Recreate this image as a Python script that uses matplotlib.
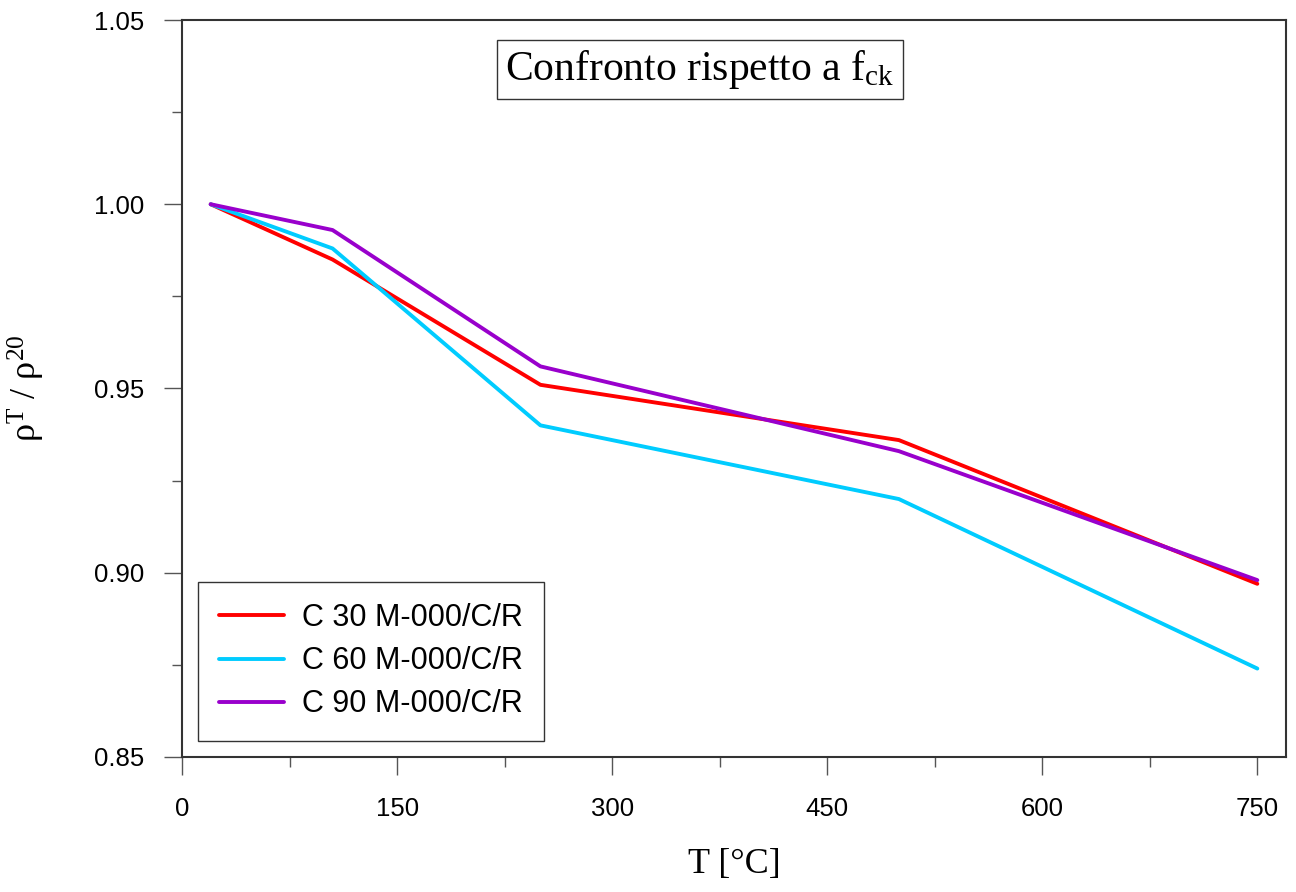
import matplotlib
matplotlib.use("Agg")
import matplotlib.pyplot as plt
from matplotlib.ticker import MultipleLocator, FormatStrFormatter

# dane
temps = [20, 105, 250, 500, 750]
c30 = [1.000, 0.985, 0.951, 0.936, 0.897]
c60 = [1.000, 0.988, 0.940, 0.920, 0.874]
c90 = [1.000, 0.993, 0.956, 0.933, 0.898]
labels = ["C 30 M-000/C/R", "C 60 M-000/C/R", "C 90 M-000/C/R"]
colors = ["#ff0000", "#00ccff", "#9900cc"]

plt.rcParams['mathtext.fontset'] = 'custom'
plt.rcParams['mathtext.rm'] = 'Liberation Serif'
plt.rcParams['mathtext.it'] = 'Liberation Serif:italic'

fig = plt.figure(figsize=(12.96, 8.92), dpi=100)
ax = fig.add_axes([182/1296, 1 - 757/892, (1286-182)/1296, (757-20)/892])

for serie, lab, col in zip([c30, c60, c90], labels, colors):
    ax.plot(temps, serie, color=col, lw=2.8, label=lab, solid_capstyle='round')

ax.set_xlim(0, 770)
ax.set_ylim(0.85, 1.05)
ax.xaxis.set_major_locator(MultipleLocator(150))
ax.xaxis.set_minor_locator(MultipleLocator(75))
ax.yaxis.set_major_locator(MultipleLocator(0.05))
ax.yaxis.set_minor_locator(MultipleLocator(0.025))
ax.yaxis.set_major_formatter(FormatStrFormatter('%.2f'))

for s in ax.spines.values():
    s.set_linewidth(1.5)
    s.set_color('#333333')
ax.tick_params(which='major', direction='out', length=13, width=1, color='#555555',
               labelsize=18.5)
ax.tick_params(axis='y', which='major', pad=14)
ax.tick_params(axis='x', which='major', pad=16)
ax.tick_params(which='minor', direction='out', length=7, width=1, color='#555555')
for t in ax.get_xticklabels() + ax.get_yticklabels():
    t.set_fontfamily('Liberation Sans')

ax.set_xlabel('T [°C]', fontsize=26, family='Liberation Serif')
ax.set_ylabel('ρ$^{\\mathrm{T}}$ / ρ$^{\\mathrm{20}}$', fontsize=26, family='Liberation Serif')
ax.xaxis.set_label_coords(0.5, -0.124)
ax.yaxis.set_label_coords(-0.122, 0.5)

ax.text(0.469, 0.933, 'Confronto rispetto a f$_{\\mathrm{ck}}$', transform=ax.transAxes,
        ha='center', va='center', fontsize=30, family='Liberation Serif',
        bbox=dict(boxstyle='square,pad=0.2', fc='white', ec='#333333', lw=1))

leg = ax.legend(loc='lower left', bbox_to_anchor=(0.0145, 0.022), borderaxespad=0,
                fancybox=False, edgecolor='#333333', framealpha=1,
                handlelength=2.1, handletextpad=0.6,
                prop={'family': 'Liberation Sans', 'size': 22}, borderpad=0.7, labelspacing=0.43)
leg.get_frame().set_linewidth(1)

fig.savefig('out.png', dpi=100)
